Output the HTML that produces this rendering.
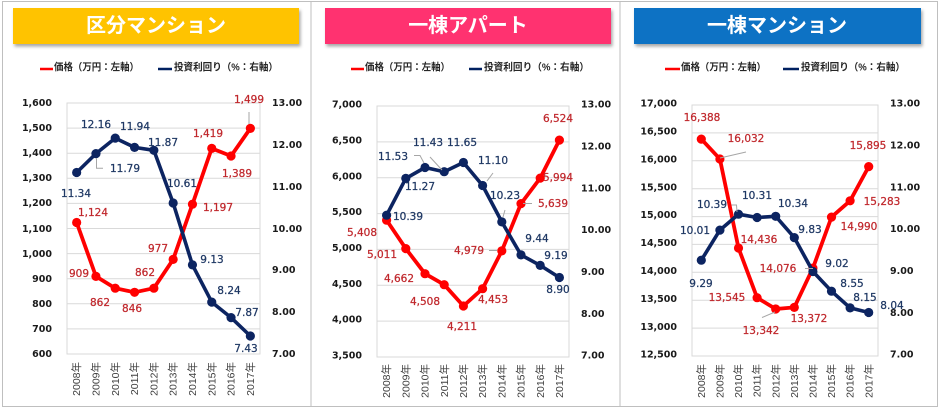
<!DOCTYPE html>
<html>
<head>
<meta charset="utf-8">
<style>
html,body{margin:0;padding:0;background:#fff;}
body{width:940px;height:408px;overflow:hidden;}
svg{display:block;}
.tt{font-family:"Liberation Sans","Noto Sans CJK JP",sans-serif;font-weight:bold;font-size:20px;fill:#fff;}
.lg{font-family:"Liberation Sans","Noto Sans CJK JP",sans-serif;font-weight:bold;font-size:10px;fill:#262626;}
.ax{font-family:"DejaVu Sans","Liberation Sans",sans-serif;font-weight:bold;font-size:9.5px;fill:#1a1a1a;}
.xl{font-family:"Liberation Sans","Noto Sans CJK JP",sans-serif;font-size:10.5px;fill:#404040;}
.dr{font-family:"DejaVu Sans","Liberation Sans",sans-serif;font-size:10.5px;fill:#C0282D;stroke:#C0282D;stroke-width:0.25;text-anchor:middle;}
.db{font-family:"DejaVu Sans","Liberation Sans",sans-serif;font-size:10.5px;fill:#1F3864;stroke:#1F3864;stroke-width:0.25;text-anchor:middle;}
.grid{stroke:#D9D9D9;stroke-width:1;}
.ld{stroke:#A6A6A6;stroke-width:1;fill:none;}
</style>
</head>
<body>
<svg width="940" height="408" viewBox="0 0 940 408" xmlns="http://www.w3.org/2000/svg">
<defs>
<filter id="sh" x="-5%" y="-20%" width="115%" height="160%">
<feDropShadow dx="1.5" dy="2.5" stdDeviation="1.5" flood-color="#000" flood-opacity="0.35"/>
</filter>
</defs>
<rect x="0" y="0" width="940" height="408" fill="#fff"/>
<!-- panel borders -->
<rect x="2.5" y="1.5" width="308.5" height="405" fill="none" stroke="#BFBFBF" stroke-width="1"/>
<rect x="311" y="1.5" width="309" height="405" fill="none" stroke="#BFBFBF" stroke-width="1"/>
<rect x="620" y="1.5" width="317.5" height="405" fill="none" stroke="#BFBFBF" stroke-width="1"/>

<!-- titles -->
<rect x="13" y="8" width="286" height="36" fill="#FFC300" filter="url(#sh)"/>
<text class="tt" x="156" y="26" text-anchor="middle" dominant-baseline="central">区分マンション</text>
<rect x="325" y="8" width="286" height="36" fill="#FF3370" filter="url(#sh)"/>
<text class="tt" x="468" y="26" text-anchor="middle" dominant-baseline="central">一棟アパート</text>
<rect x="634" y="8" width="287" height="36" fill="#0A72C4" filter="url(#sh)"/>
<text class="tt" x="777" y="26" text-anchor="middle" dominant-baseline="central">一棟マンション</text>

<!-- legends -->
<line x1="40" y1="69" x2="53" y2="69" stroke="#FF0000" stroke-width="2.5"/>
<text class="lg" x="54" y="68" dominant-baseline="central" textLength="85" lengthAdjust="spacingAndGlyphs">価格（万円：左軸）</text>
<line x1="158" y1="69" x2="172" y2="69" stroke="#002060" stroke-width="2.5"/>
<text class="lg" x="174" y="68" dominant-baseline="central" textLength="104" lengthAdjust="spacingAndGlyphs">投資利回り（%：右軸）</text>

<line x1="351" y1="69" x2="364" y2="69" stroke="#FF0000" stroke-width="2.5"/>
<text class="lg" x="365" y="68" dominant-baseline="central" textLength="85" lengthAdjust="spacingAndGlyphs">価格（万円：左軸）</text>
<line x1="469" y1="69" x2="482" y2="69" stroke="#002060" stroke-width="2.5"/>
<text class="lg" x="484" y="68" dominant-baseline="central" textLength="105" lengthAdjust="spacingAndGlyphs">投資利回り（%：右軸）</text>

<line x1="665" y1="69" x2="680" y2="69" stroke="#FF0000" stroke-width="2.5"/>
<text class="lg" x="681" y="68" dominant-baseline="central" textLength="85" lengthAdjust="spacingAndGlyphs">価格（万円：左軸）</text>
<line x1="783" y1="69" x2="799" y2="69" stroke="#002060" stroke-width="2.5"/>
<text class="lg" x="801" y="68" dominant-baseline="central" textLength="104" lengthAdjust="spacingAndGlyphs">投資利回り（%：右軸）</text>

<!-- ================= PANEL 1 ================= -->
<g class="grid">
<line x1="67" y1="128.1" x2="260" y2="128.1"/>
<line x1="67" y1="153.2" x2="260" y2="153.2"/>
<line x1="67" y1="178.3" x2="260" y2="178.3"/>
<line x1="67" y1="203.4" x2="260" y2="203.4"/>
<line x1="67" y1="228.5" x2="260" y2="228.5"/>
<line x1="67" y1="253.6" x2="260" y2="253.6"/>
<line x1="67" y1="278.7" x2="260" y2="278.7"/>
<line x1="67" y1="303.8" x2="260" y2="303.8"/>
<line x1="67" y1="328.9" x2="260" y2="328.9"/>
</g>
<rect x="67" y="103" width="193" height="251" fill="none" stroke="#D9D9D9" stroke-width="1"/>
<g class="ax" text-anchor="end">
<text x="52" y="106">1,600</text>
<text x="52" y="131">1,500</text>
<text x="52" y="156">1,400</text>
<text x="52" y="181">1,300</text>
<text x="52" y="206">1,200</text>
<text x="52" y="232">1,100</text>
<text x="52" y="257">1,000</text>
<text x="52" y="282">900</text>
<text x="52" y="307">800</text>
<text x="52" y="332">700</text>
<text x="52" y="357">600</text>
</g>
<g class="ax">
<text x="272" y="106">13.00</text>
<text x="272" y="148">12.00</text>
<text x="272" y="190">11.00</text>
<text x="272" y="232">10.00</text>
<text x="272" y="273">9.00</text>
<text x="272" y="315">8.00</text>
<text x="272" y="357">7.00</text>
</g>
<g class="xl" text-anchor="end">
<text transform="translate(80.2,362) rotate(-90)">2008年</text>
<text transform="translate(99.5,362) rotate(-90)">2009年</text>
<text transform="translate(118.8,362) rotate(-90)">2010年</text>
<text transform="translate(138.1,362) rotate(-90)">2011年</text>
<text transform="translate(157.4,362) rotate(-90)">2012年</text>
<text transform="translate(176.7,362) rotate(-90)">2013年</text>
<text transform="translate(196,362) rotate(-90)">2014年</text>
<text transform="translate(215.3,362) rotate(-90)">2015年</text>
<text transform="translate(234.6,362) rotate(-90)">2016年</text>
<text transform="translate(253.9,362) rotate(-90)">2017年</text>
</g>
<polyline fill="none" stroke="#FF0000" stroke-width="3.8" stroke-linejoin="round" points="76.65,222.5 95.95,276.4 115.25,288.2 134.55,292.3 153.85,288.2 173.15,259.4 192.45,204.2 211.75,148.4 231.05,156 250.35,128.4"/>
<g fill="#FF0000">
<circle cx="76.65" cy="222.5" r="4.6"/><circle cx="95.95" cy="276.4" r="4.6"/><circle cx="115.25" cy="288.2" r="4.6"/><circle cx="134.55" cy="292.3" r="4.6"/><circle cx="153.85" cy="288.2" r="4.6"/><circle cx="173.15" cy="259.4" r="4.6"/><circle cx="192.45" cy="204.2" r="4.6"/><circle cx="211.75" cy="148.4" r="4.6"/><circle cx="231.05" cy="156" r="4.6"/><circle cx="250.35" cy="128.4" r="4.6"/>
</g>
<polyline fill="none" stroke="#0C2461" stroke-width="3.6" stroke-linejoin="round" points="76.65,172.5 95.95,153.6 115.25,138.1 134.55,147.4 153.85,150.3 173.15,203 192.45,264.9 211.75,302.1 231.05,317.6 250.35,336"/>
<g fill="#0C2461">
<circle cx="76.65" cy="172.5" r="4.6"/><circle cx="95.95" cy="153.6" r="4.6"/><circle cx="115.25" cy="138.1" r="4.6"/><circle cx="134.55" cy="147.4" r="4.6"/><circle cx="153.85" cy="150.3" r="4.6"/><circle cx="173.15" cy="203" r="4.6"/><circle cx="192.45" cy="264.9" r="4.6"/><circle cx="211.75" cy="302.1" r="4.6"/><circle cx="231.05" cy="317.6" r="4.6"/><circle cx="250.35" cy="336" r="4.6"/>
</g>
<polyline class="ld" points="96.5,158 96.5,168.3 103,168.3"/>
<line class="ld" x1="249" y1="112" x2="249" y2="124"/>
<g class="dr">
<text x="93" y="216">1,124</text>
<text x="79" y="277">909</text>
<text x="100" y="306">862</text>
<text x="132" y="312">846</text>
<text x="145" y="276">862</text>
<text x="158" y="252">977</text>
<text x="218" y="211">1,197</text>
<text x="208" y="137">1,419</text>
<text x="237" y="177">1,389</text>
<text x="249" y="103">1,499</text>
</g>
<g class="db">
<text x="76" y="197">11.34</text>
<text x="125" y="172">11.79</text>
<text x="96" y="128">12.16</text>
<text x="135" y="130">11.94</text>
<text x="163" y="146">11.87</text>
<text x="182" y="187">10.61</text>
<text x="212" y="263">9.13</text>
<text x="229" y="294">8.24</text>
<text x="247" y="316">7.87</text>
<text x="246" y="352">7.43</text>
</g>

<!-- ================= PANEL 2 ================= -->
<g class="grid">
<line x1="377" y1="141.9" x2="569" y2="141.9"/>
<line x1="377" y1="177.7" x2="569" y2="177.7"/>
<line x1="377" y1="213.6" x2="569" y2="213.6"/>
<line x1="377" y1="249.4" x2="569" y2="249.4"/>
<line x1="377" y1="285.3" x2="569" y2="285.3"/>
<line x1="377" y1="321.1" x2="569" y2="321.1"/>
</g>
<rect x="377" y="106" width="192" height="251" fill="none" stroke="#D9D9D9" stroke-width="1"/>
<g class="ax" text-anchor="end">
<text x="362" y="107.5">7,000</text>
<text x="362" y="143.5">6,500</text>
<text x="362" y="179.5">6,000</text>
<text x="362" y="215">5,500</text>
<text x="362" y="251">5,000</text>
<text x="362" y="287">4,500</text>
<text x="362" y="322.5">4,000</text>
<text x="362" y="358.5">3,500</text>
</g>
<g class="ax">
<text x="581" y="107.5">13.00</text>
<text x="581" y="149.5">12.00</text>
<text x="581" y="191.5">11.00</text>
<text x="581" y="233">10.00</text>
<text x="581" y="275">9.00</text>
<text x="581" y="317">8.00</text>
<text x="581" y="358.5">7.00</text>
</g>
<g class="xl" text-anchor="end">
<text transform="translate(390.2,364) rotate(-90)">2008年</text>
<text transform="translate(409.4,364) rotate(-90)">2009年</text>
<text transform="translate(428.6,364) rotate(-90)">2010年</text>
<text transform="translate(447.8,364) rotate(-90)">2011年</text>
<text transform="translate(467,364) rotate(-90)">2012年</text>
<text transform="translate(486.2,364) rotate(-90)">2013年</text>
<text transform="translate(505.4,364) rotate(-90)">2014年</text>
<text transform="translate(524.6,364) rotate(-90)">2015年</text>
<text transform="translate(543.8,364) rotate(-90)">2016年</text>
<text transform="translate(563,364) rotate(-90)">2017年</text>
</g>
<polyline fill="none" stroke="#FF0000" stroke-width="3.8" stroke-linejoin="round" points="386.6,220.2 405.8,248.6 425,273.7 444.2,284.7 463.4,306 482.6,288.7 501.8,250.9 521,203.6 540.2,178.1 559.4,140.1"/>
<g fill="#FF0000">
<circle cx="386.6" cy="220.2" r="4.6"/><circle cx="405.8" cy="248.6" r="4.6"/><circle cx="425" cy="273.7" r="4.6"/><circle cx="444.2" cy="284.7" r="4.6"/><circle cx="463.4" cy="306" r="4.6"/><circle cx="482.6" cy="288.7" r="4.6"/><circle cx="501.8" cy="250.9" r="4.6"/><circle cx="521" cy="203.6" r="4.6"/><circle cx="540.2" cy="178.1" r="4.6"/><circle cx="559.4" cy="140.1" r="4.6"/>
</g>
<polyline fill="none" stroke="#0C2461" stroke-width="3.6" stroke-linejoin="round" points="386.6,215.2 405.8,178.4 425,167.5 444.2,171.7 463.4,162.5 482.6,185.5 501.8,221.9 521,254.9 540.2,265.4 559.4,277.5"/>
<g fill="#0C2461">
<circle cx="386.6" cy="215.2" r="4.6"/><circle cx="405.8" cy="178.4" r="4.6"/><circle cx="425" cy="167.5" r="4.6"/><circle cx="444.2" cy="171.7" r="4.6"/><circle cx="463.4" cy="162.5" r="4.6"/><circle cx="482.6" cy="185.5" r="4.6"/><circle cx="501.8" cy="221.9" r="4.6"/><circle cx="521" cy="254.9" r="4.6"/><circle cx="540.2" cy="265.4" r="4.6"/><circle cx="559.4" cy="277.5" r="4.6"/>
</g>
<polyline class="ld" points="414,155.5 420,155.5 424,163"/>
<line class="ld" x1="430" y1="157" x2="442" y2="170"/>
<line class="ld" x1="493" y1="173" x2="487" y2="181"/>
<line class="ld" x1="505" y1="210" x2="503" y2="217"/>
<line class="ld" x1="489" y1="250.5" x2="497" y2="250.5"/>
<line class="ld" x1="523" y1="203.5" x2="532" y2="203.5"/>
<g class="dr">
<text x="362" y="236">5,408</text>
<text x="382" y="258">5,011</text>
<text x="399" y="282">4,662</text>
<text x="425" y="305">4,508</text>
<text x="462" y="330">4,211</text>
<text x="493" y="303">4,453</text>
<text x="469" y="254">4,979</text>
<text x="553" y="207">5,639</text>
<text x="558" y="181">5,994</text>
<text x="558" y="122">6,524</text>
</g>
<g class="db">
<text x="408" y="220">10.39</text>
<text x="420" y="190">11.27</text>
<text x="393" y="160">11.53</text>
<text x="428" y="146">11.43</text>
<text x="462" y="146">11.65</text>
<text x="493" y="164">11.10</text>
<text x="505" y="199">10.23</text>
<text x="537" y="242">9.44</text>
<text x="556" y="259">9.19</text>
<text x="558" y="293">8.90</text>
</g>

<!-- ================= PANEL 3 ================= -->
<g class="grid">
<line x1="692" y1="132.9" x2="878" y2="132.9"/>
<line x1="692" y1="160.8" x2="878" y2="160.8"/>
<line x1="692" y1="188.7" x2="878" y2="188.7"/>
<line x1="692" y1="216.6" x2="878" y2="216.6"/>
<line x1="692" y1="244.4" x2="878" y2="244.4"/>
<line x1="692" y1="272.3" x2="878" y2="272.3"/>
<line x1="692" y1="300.2" x2="878" y2="300.2"/>
<line x1="692" y1="328.1" x2="878" y2="328.1"/>
</g>
<rect x="692" y="105" width="186" height="251" fill="none" stroke="#D9D9D9" stroke-width="1"/>
<g class="ax" text-anchor="end">
<text x="677" y="106.5">17,000</text>
<text x="677" y="134.5">16,500</text>
<text x="677" y="162.5">16,000</text>
<text x="677" y="190.5">15,500</text>
<text x="677" y="218">15,000</text>
<text x="677" y="246">14,500</text>
<text x="677" y="274">14,000</text>
<text x="677" y="302">13,500</text>
<text x="677" y="330">13,000</text>
<text x="677" y="357.5">12,500</text>
</g>
<g class="ax">
<text x="890" y="106.5">13.00</text>
<text x="890" y="148.5">12.00</text>
<text x="890" y="190.5">11.00</text>
<text x="890" y="232">10.00</text>
<text x="890" y="274">9.00</text>
<text x="890" y="316">8.00</text>
<text x="890" y="357.5">7.00</text>
</g>
<g class="xl" text-anchor="end">
<text transform="translate(704.9,364) rotate(-90)">2008年</text>
<text transform="translate(723.5,364) rotate(-90)">2009年</text>
<text transform="translate(742.1,364) rotate(-90)">2010年</text>
<text transform="translate(760.7,364) rotate(-90)">2011年</text>
<text transform="translate(779.3,364) rotate(-90)">2012年</text>
<text transform="translate(797.9,364) rotate(-90)">2013年</text>
<text transform="translate(816.5,364) rotate(-90)">2014年</text>
<text transform="translate(835.1,364) rotate(-90)">2015年</text>
<text transform="translate(853.7,364) rotate(-90)">2016年</text>
<text transform="translate(872.3,364) rotate(-90)">2017年</text>
</g>
<polyline fill="none" stroke="#FF0000" stroke-width="3.8" stroke-linejoin="round" points="701.3,139.1 719.9,159 738.5,248 757.1,297.7 775.7,309 794.3,307.4 812.9,268.1 831.5,217.1 850.1,200.8 868.7,166.6"/>
<g fill="#FF0000">
<circle cx="701.3" cy="139.1" r="4.6"/><circle cx="719.9" cy="159" r="4.6"/><circle cx="738.5" cy="248" r="4.6"/><circle cx="757.1" cy="297.7" r="4.6"/><circle cx="775.7" cy="309" r="4.6"/><circle cx="794.3" cy="307.4" r="4.6"/><circle cx="812.9" cy="268.1" r="4.6"/><circle cx="831.5" cy="217.1" r="4.6"/><circle cx="850.1" cy="200.8" r="4.6"/><circle cx="868.7" cy="166.6" r="4.6"/>
</g>
<polyline fill="none" stroke="#0C2461" stroke-width="3.6" stroke-linejoin="round" points="701.3,260.2 719.9,230.1 738.5,214.2 757.1,217.5 775.7,216.3 794.3,237.6 812.9,271.5 831.5,291.2 850.1,307.9 868.7,312.5"/>
<g fill="#0C2461">
<circle cx="701.3" cy="260.2" r="4.6"/><circle cx="719.9" cy="230.1" r="4.6"/><circle cx="738.5" cy="214.2" r="4.6"/><circle cx="757.1" cy="217.5" r="4.6"/><circle cx="775.7" cy="216.3" r="4.6"/><circle cx="794.3" cy="237.6" r="4.6"/><circle cx="812.9" cy="271.5" r="4.6"/><circle cx="831.5" cy="291.2" r="4.6"/><circle cx="850.1" cy="307.9" r="4.6"/><circle cx="868.7" cy="312.5" r="4.6"/>
</g>
<line class="ld" x1="720" y1="158" x2="746" y2="152"/>
<polyline class="ld" points="731.5,205 736.5,205 737,212"/>
<line class="ld" x1="762" y1="317.5" x2="775" y2="312"/>
<line class="ld" x1="805" y1="268.5" x2="813" y2="268.5"/>
<g class="dr">
<text x="702" y="121">16,388</text>
<text x="746" y="142">16,032</text>
<text x="759" y="243">14,436</text>
<text x="727" y="301">13,545</text>
<text x="761" y="334">13,342</text>
<text x="809" y="322">13,372</text>
<text x="778" y="272">14,076</text>
<text x="859" y="230">14,990</text>
<text x="882" y="205">15,283</text>
<text x="868" y="149">15,895</text>
</g>
<g class="db">
<text x="701" y="287">9.29</text>
<text x="695" y="234">10.01</text>
<text x="712" y="208">10.39</text>
<text x="757" y="199">10.31</text>
<text x="793" y="207">10.34</text>
<text x="810" y="233">9.83</text>
<text x="837" y="267">9.02</text>
<text x="852" y="287">8.55</text>
<text x="865" y="301">8.15</text>
<text x="892" y="309">8.04</text>
</g>
</svg>
</body>
</html>
